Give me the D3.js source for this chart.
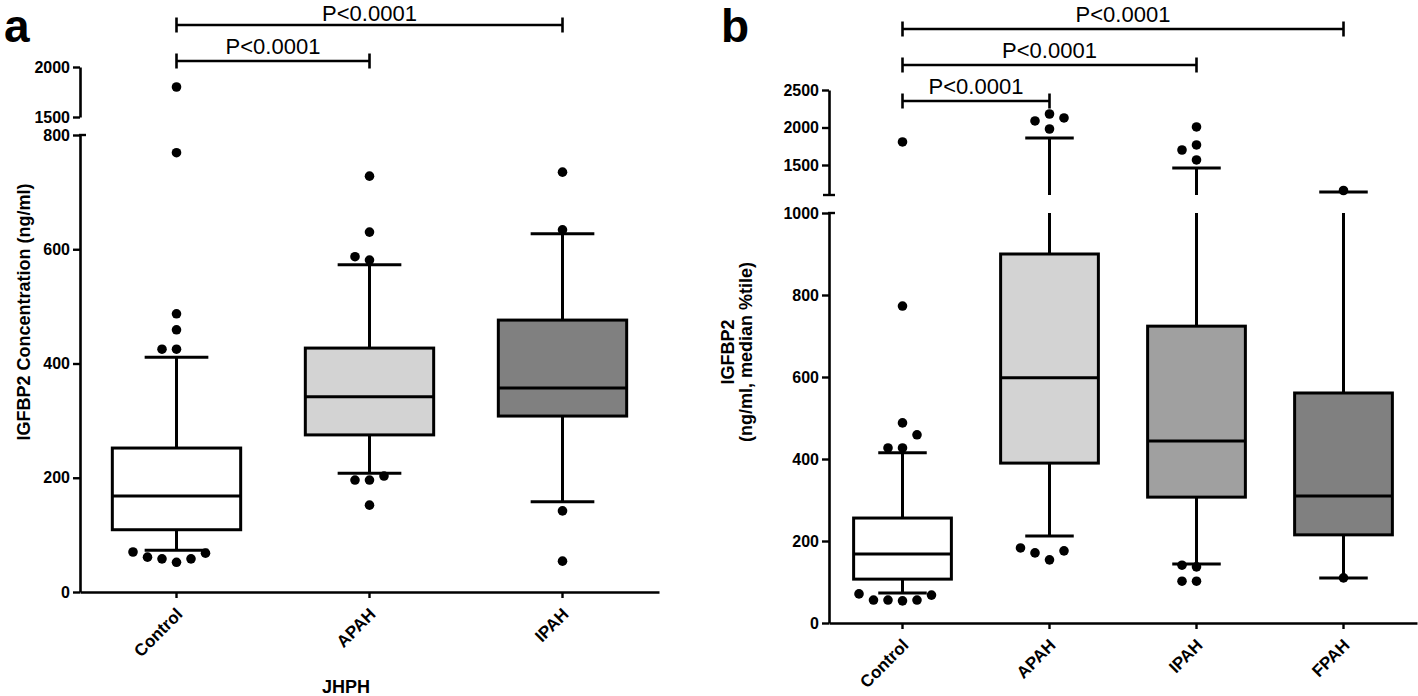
<!DOCTYPE html>
<html><head><meta charset="utf-8">
<script src="https://cdn.jsdelivr.net/npm/d3@7"></script>
<style>
body{margin:0;background:#fff;}
svg{display:block;font-family:Arial,"Liberation Sans",sans-serif;}
</style></head><body>
<svg id="chart" width="1418" height="696"></svg>
<script>
// ---------- DATA ----------
// Panel a (JHPH)
const categoriesA = ["Control", "APAH", "IPAH"];
// [lower whisker, Q1, median, Q3, upper whisker]
const boxStatsA = [[73, 109, 168, 252, 411], [208, 275, 342, 427, 573], [158, 308, 357, 476, 627]];
const outliersA = [[1800, 769, 487, 459, 425, 425, 70, 68, 61, 58, 58, 52],
                   [728, 630, 587, 581, 203, 196, 196, 152],
                   [735, 634, 142, 54]];
const fillsA = ["#ffffff", "#d3d3d3", "#808080"];
const lowerTicksA = [0, 200, 400, 600, 800];
const upperTicksA = [1500, 2000];
const comparisonsA = [["Control", "IPAH"], ["Control", "APAH"]];
const pLabelsA = ["P<0.0001", "P<0.0001"];
const xTitleA = "JHPH";
const yTitleA = ["IGFBP2 Concentration (ng/ml)"];

// Panel b
const categoriesB = ["Control", "APAH", "IPAH", "FPAH"];
const boxStatsB = [[73, 107, 168, 256, 415], [212, 390, 598, 900, 1860], [144, 307, 444, 724, 1460], [110, 215, 310, 561, 1140]];
const outliersB = [[1807, 773, 488, 459, 427, 427, 71, 68, 56, 56, 56, 54],
                   [2180, 2127, 2087, 1980, 183, 176, 171, 154],
                   [2007, 1767, 1700, 1567, 141, 137, 102, 102],
                   [1160, 110]];
const fillsB = ["#ffffff", "#d3d3d3", "#a0a0a0", "#808080"];
const lowerTicksB = [0, 200, 400, 600, 800, 1000];
const upperTicksB = [1500, 2000, 2500];
const comparisonsB = [["Control", "FPAH"], ["Control", "IPAH"], ["Control", "APAH"]];
const pLabelsB = ["P<0.0001", "P<0.0001", "P<0.0001"];
const yTitleB = ["IGFBP2", "(ng/ml, median %tile)"];

// ---------- DRAWING ----------
const svg = d3.select("#chart");

function drawPanel(cfg) {
  const g = svg.append("g");
  const x = d3.scaleBand().domain(cfg.categories).range(cfg.xRange).padding(0);
  const step = x.bandwidth();
  const cx = c => x(c) + step / 2;
  const yLow = d3.scaleLinear().domain(cfg.lowDomain).range(cfg.lowRange);
  const yUp = d3.scaleLinear().domain(cfg.upDomain).range(cfg.upRange);
  const lowMax = cfg.lowDomain[1], upMin = cfg.upDomain[0];
  const y = v => v <= lowMax ? yLow(v) : yUp(v);
  const segs = (a, b) => {
    if (b <= lowMax) return [[yLow(a), yLow(b)]];
    if (a >= upMin) return [[yUp(a), yUp(b)]];
    return [[yLow(a), yLow(lowMax)], [yUp(upMin), yUp(b)]];
  };

  // Axes
  const styleAxis = sel => {
    sel.select(".domain").attr("stroke", "#000").attr("stroke-width", 2.6);
    sel.selectAll(".tick line").attr("stroke", "#000").attr("stroke-width", 2.4);
    sel.selectAll(".tick text").attr("fill", "#000").style("font-size", "16px").style("font-weight", "bold");
  };
  const fmt = d3.format("d");
  g.append("g").attr("transform", `translate(${cfg.xRange[0]},0)`)
    .call(d3.axisLeft(yLow).tickValues(cfg.lowerTicks).tickFormat(fmt).tickSize(7).tickPadding(3).tickSizeOuter(0))
    .call(styleAxis);
  g.append("g").attr("transform", `translate(${cfg.xRange[0]},0)`)
    .call(d3.axisLeft(yUp).tickValues(cfg.upperTicks).tickFormat(fmt).tickSize(7).tickPadding(3).tickSizeOuter(0))
    .call(styleAxis);
  // break caps
  g.append("line").attr("x1", cfg.xRange[0] - 1).attr("x2", cfg.xRange[0] + 6)
    .attr("y1", yLow(lowMax)).attr("y2", yLow(lowMax)).attr("stroke", "#000").attr("stroke-width", 2.4);
  if (cfg.upperCap) {
    g.append("line").attr("x1", cfg.xRange[0] - 6).attr("x2", cfg.xRange[0] + 6)
      .attr("y1", yUp(upMin)).attr("y2", yUp(upMin)).attr("stroke", "#000").attr("stroke-width", 2.4);
  }

  const xAxis = g.append("g").attr("transform", `translate(0,${cfg.lowRange[0]})`)
    .call(d3.axisBottom(x).tickSize(6).tickSizeOuter(0));
  xAxis.select(".domain").attr("stroke", "#000").attr("stroke-width", 2.6);
  xAxis.selectAll(".tick line").attr("stroke", "#000").attr("stroke-width", 2.4);
  xAxis.selectAll(".tick text")
    .attr("x", null).attr("y", null).attr("dy", "0.35em")
    .attr("transform", "translate(3,19) rotate(-45)")
    .attr("text-anchor", "end").attr("fill", "#000")
    .style("font-size", "17px").style("font-weight", "bold");

  // Boxes
  const boxW = step * 0.665, capW = step * 0.33;
  cfg.categories.forEach((c, i) => {
    const [lo, q1, med, q3, hi] = cfg.stats[i];
    const xc = cx(c);
    const wg = g.append("g").attr("stroke", "#000").attr("stroke-width", 3);
    segs(q3, hi).concat(segs(lo, q1)).forEach(([a, b]) => {
      wg.append("line").attr("x1", xc).attr("x2", xc).attr("y1", a).attr("y2", b);
    });
    [lo, hi].forEach(v => {
      wg.append("line").attr("x1", xc - capW / 2).attr("x2", xc + capW / 2).attr("y1", y(v)).attr("y2", y(v));
    });
    g.append("rect").attr("x", xc - boxW / 2).attr("width", boxW)
      .attr("y", y(q3)).attr("height", y(q1) - y(q3))
      .attr("fill", cfg.fills[i]).attr("stroke", "#000").attr("stroke-width", 3);
    g.append("line").attr("x1", xc - boxW / 2).attr("x2", xc + boxW / 2)
      .attr("y1", y(med)).attr("y2", y(med)).attr("stroke", "#000").attr("stroke-width", 3);

    // outliers, simple swarm layout
    const s = 14.5, thr = 14, placed = [];
    const pts = cfg.outliers[i].slice().sort((a, b) => a - b);
    pts.forEach(v => {
      const py = y(v);
      for (let k = 0; k < 20; k++) {
        const off = k === 0 ? 0 : (k % 2 === 1 ? -Math.ceil(k / 2) : Math.ceil(k / 2)) * s;
        const px = xc + off;
        if (placed.every(p => Math.hypot(p[0] - px, p[1] - py) >= thr)) { placed.push([px, py]); break; }
      }
    });
    g.append("g").selectAll("circle").data(placed).join("circle")
      .attr("cx", d => d[0]).attr("cy", d => d[1]).attr("r", 4.8).attr("fill", "#000");
  });

  // Significance brackets
  cfg.comparisons.forEach((pair, i) => {
    const by = cfg.bracketY0 + i * cfg.bracketStep;
    const x1 = cx(pair[0]), x2 = cx(pair[1]);
    const bg = g.append("g").attr("stroke", "#000").attr("stroke-width", 2.6);
    bg.append("line").attr("x1", x1).attr("x2", x2).attr("y1", by).attr("y2", by);
    bg.append("line").attr("x1", x1).attr("x2", x1).attr("y1", by - 7.5).attr("y2", by + 7.5);
    bg.append("line").attr("x1", x2).attr("x2", x2).attr("y1", by - 7.5).attr("y2", by + 7.5);
    g.append("text").attr("x", (x1 + x2) / 2).attr("y", Math.max(by - 7, 21)).attr("text-anchor", "middle")
      .style("font-size", "22px").attr("fill", "#000").text(cfg.pLabels[i]);
  });

  // Y title
  const yt = g.append("g").attr("transform", `translate(${cfg.yTitlePos[0]},${cfg.yTitlePos[1]}) rotate(-90)`);
  cfg.yTitle.forEach((t, i) => {
    yt.append("text").attr("x", 0).attr("y", i * 18).attr("dy", "0.35em").attr("text-anchor", "middle")
      .style("font-size", "18px").style("font-weight", "bold").attr("fill", "#000").text(t);
  });
  if (cfg.xTitle) {
    g.append("text").attr("x", cfg.xTitlePos[0]).attr("y", cfg.xTitlePos[1]).attr("text-anchor", "middle")
      .style("font-size", "18px").style("font-weight", "bold").attr("fill", "#000").text(cfg.xTitle);
  }
  g.append("text").attr("x", cfg.letterPos[0]).attr("y", cfg.letterPos[1])
    .style("font-size", "46px").style("font-weight", "bold").attr("fill", "#000").text(cfg.letter);
}

drawPanel({
  categories: categoriesA, stats: boxStatsA, outliers: outliersA, fills: fillsA,
  lowerTicks: lowerTicksA, upperTicks: upperTicksA, comparisons: comparisonsA, pLabels: pLabelsA,
  yTitle: yTitleA, xTitle: xTitleA,
  xRange: [80, 659], lowDomain: [0, 800], lowRange: [592, 135], upDomain: [1500, 2000], upRange: [117, 67],
  upperCap: false, bracketY0: 25, bracketStep: 36,
  yTitlePos: [24, 312], xTitlePos: [346, 693], letter: "a", letterPos: [4, 42]
});
drawPanel({
  categories: categoriesB, stats: boxStatsB, outliers: outliersB, fills: fillsB,
  lowerTicks: lowerTicksB, upperTicks: upperTicksB, comparisons: comparisonsB, pLabels: pLabelsB,
  yTitle: yTitleB, xTitle: null,
  xRange: [829, 1417], lowDomain: [0, 1000], lowRange: [623, 213], upDomain: [1100, 2500], upRange: [195, 90],
  upperCap: true, bracketY0: 29, bracketStep: 36,
  yTitlePos: [728, 352], letter: "b", letterPos: [721, 42]
});
</script>
</body></html>
